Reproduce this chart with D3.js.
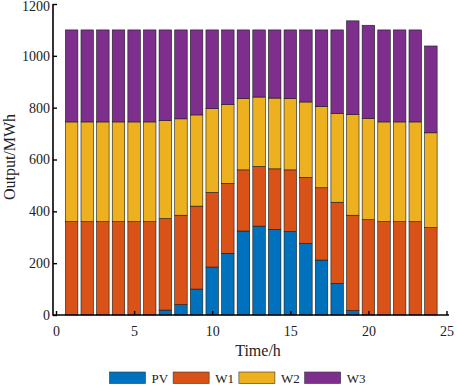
<!DOCTYPE html>
<html>
<head>
<meta charset="utf-8">
<script src="https://cdn.jsdelivr.net/npm/d3@7"></script>
<style>
  html, body { margin: 0; padding: 0; background: #fff; }
  svg { display: block; font-family: "Liberation Serif", "Times New Roman", serif; }
</style>
</head>
<body>
<div id="chart"></div>
<script>
// hours 1..24
const hours = d3.range(1, 25);
const seriesNames = ['PV', 'W1', 'W2', 'W3'];
const seriesColors = ['#0072BD', '#D95319', '#EDB120', '#7E2F8E'];

// values (MWh)
const pv = [0, 0, 0, 0, 0, 0, 19, 40, 100, 185, 238, 324, 343, 330, 322, 276, 212, 122, 17, 0, 0, 0, 0, 0];
const w1 = [360, 360, 360, 360, 360, 360, 353, 345, 320, 288, 270, 236, 230, 234, 238, 255, 279, 313, 368, 368, 360, 360, 360, 337];
const w2 = [385, 385, 385, 385, 385, 385, 378, 372, 352, 323, 304, 276, 268, 273, 276, 291, 313, 343, 389, 391, 385, 385, 385, 366];
const w3 = [355, 355, 355, 355, 355, 355, 350, 343, 328, 304, 288, 264, 259, 263, 264, 278, 296, 322, 361, 359, 355, 355, 355, 335];

const xTicks = [0, 5, 10, 15, 20, 25];
const yTicks = [0, 200, 400, 600, 800, 1000, 1200];

const width = 457, height = 386;
const font = '"Liberation Serif", "Times New Roman", serif';
const svg = d3.select('#chart').append('svg')
  .attr('width', width)
  .attr('height', height);

svg.append('rect').attr('width', width).attr('height', height).attr('fill', '#fff');

const x = d3.scaleLinear().domain([0, 25]).range([56, 446.5]);
const y = d3.scaleLinear().domain([0, 1200]).range([315, 4]);

const table = hours.map((h, i) => ({ hour: h, PV: pv[i], W1: w1[i], W2: w2[i], W3: w3[i] }));
const stacked = d3.stack().keys(seriesNames)(table);

const barW = (x(1) - x(0)) * 0.8;

const layers = svg.selectAll('g.layer')
  .data(stacked)
  .join('g')
  .attr('class', 'layer')
  .attr('fill', (d, i) => seriesColors[i]);

layers.selectAll('rect')
  .data(d => d.filter(p => p[1] - p[0] > 0))
  .join('rect')
  .attr('x', d => x(d.data.hour) - barW / 2)
  .attr('width', barW)
  .attr('y', d => y(d[1]))
  .attr('height', d => y(d[0]) - y(d[1]))
  .attr('stroke', '#1a1a1a')
  .attr('stroke-width', 0.6);

// axes (ticks point inward, no box)
const axisX0 = 53, axisY0 = 315;

const xAxis = svg.append('g')
  .attr('transform', `translate(0,${axisY0})`)
  .call(d3.axisBottom(x).tickValues(xTicks).tickFormat(d3.format('d'))
    .tickSizeInner(-4).tickSizeOuter(0).tickPadding(11));
xAxis.select('.domain').remove();
xAxis.append('line')
  .attr('x1', axisX0).attr('x2', 449)
  .attr('stroke', '#000').attr('stroke-width', 1.6);

const yAxis = svg.append('g')
  .attr('transform', `translate(${axisX0},0)`)
  .call(d3.axisLeft(y).tickValues(yTicks).tickFormat(d3.format('d'))
    .tickSizeInner(-4).tickSizeOuter(0).tickPadding(3));
yAxis.select('.domain').remove();
yAxis.append('line')
  .attr('y1', y(1200)).attr('y2', axisY0 + 0.8)
  .attr('stroke', '#000').attr('stroke-width', 1.6);

svg.selectAll('g').attr('font-family', null);
svg.selectAll('.tick line').attr('stroke', '#000').attr('stroke-width', 1.4);
svg.selectAll('.tick text')
  .attr('fill', '#222')
  .attr('font-size', 14)
  .attr('font-family', font);
// keep the top label inside the picture
yAxis.selectAll('.tick text').filter(d => d === 1200).attr('dy', '0.32em').attr('y', 2);

// axis titles
svg.append('text')
  .attr('x', 258)
  .attr('y', 356)
  .attr('text-anchor', 'middle')
  .attr('font-size', 16)
  .attr('fill', '#222')
  .text('Time/h');

svg.append('text')
  .attr('transform', 'translate(15,157) rotate(-90)')
  .attr('text-anchor', 'middle')
  .attr('font-size', 16)
  .attr('fill', '#222')
  .text('Output/MWh');

// legend
const legend = svg.append('g').attr('transform', 'translate(0,372)');
let lx = 109.5;
seriesNames.forEach((name, i) => {
  legend.append('rect')
    .attr('x', lx)
    .attr('y', 0)
    .attr('width', 36)
    .attr('height', 11.5)
    .attr('fill', seriesColors[i])
    .attr('stroke', '#333')
    .attr('stroke-width', 0.6);
  const t = legend.append('text')
    .attr('x', lx + 42)
    .attr('y', 10.5)
    .attr('font-size', 13)
    .attr('fill', '#222')
    .text(name);
  lx += 42 + t.node().getComputedTextLength() + 5;
});
</script>
</body>
</html>
